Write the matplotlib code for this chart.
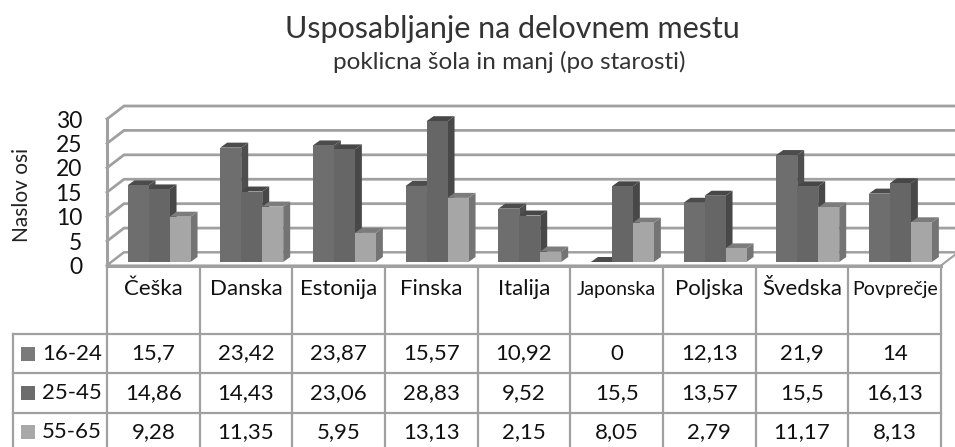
import matplotlib
matplotlib.use("Agg")
import matplotlib.pyplot as plt
from matplotlib.patches import Polygon
from matplotlib.lines import Line2D

categories = ["Češka", "Danska", "Estonija", "Finska", "Italija", "Japonska", "Poljska", "Švedska", "Povprečje"]
series_names = ["16-24", "25-45", "55-65"]
s1 = [15.7, 23.42, 23.87, 15.57, 10.92, 0, 12.13, 21.9, 14]
s2 = [14.86, 14.43, 23.06, 28.83, 9.52, 15.5, 13.57, 15.5, 16.13]
s3 = [9.28, 11.35, 5.95, 13.13, 2.15, 8.05, 2.79, 11.17, 8.13]
s1_txt = ["15,7", "23,42", "23,87", "15,57", "10,92", "0", "12,13", "21,9", "14"]
s2_txt = ["14,86", "14,43", "23,06", "28,83", "9,52", "15,5", "13,57", "15,5", "16,13"]
s3_txt = ["9,28", "11,35", "5,95", "13,13", "2,15", "8,05", "2,79", "11,17", "8,13"]
yticks = [0, 5, 10, 15, 20, 25, 30]
small_headers = ["Japonska", "Povprečje"]

W, H = 955, 447
GRID = "#a0a0a0"
TXT = "#111111"
FRONT = ["#6e6e6e", "#666666", "#a6a6a6"]
TOP = ["#4c4c4c", "#474747", "#7c7c7c"]
SIDE = ["#4e4e4e", "#484848", "#747474"]
KEY = ["#7a7a7a", "#6c6c6c", "#a8a8a8"]

plt.rcParams["font.family"] = ["Lato", "DejaVu Sans"]
fig = plt.figure(figsize=(W / 100, H / 100), dpi=100)

# overlay in pixel coords for table and titles
pix = fig.add_axes([0, 0, 1, 1])
pix.set_xlim(0, W)
pix.set_ylim(H, 0)
pix.axis("off")

# plot axes sits on the front plane of the 3d box
x0, x1, y_bot, y_top = 107, 941, 265.5, 119
ax = fig.add_axes([x0 / W, 1 - y_bot / H, (x1 - x0) / W, (y_bot - y_top) / H])
ax.set_xlim(0, len(categories))
ax.set_ylim(0, 30)
ax.patch.set_alpha(0)
for sp in ax.spines.values():
    sp.set_visible(False)
ax.set_xticks([])
ax.set_yticks(yticks)
ax.set_yticklabels([str(v) for v in yticks], fontsize=16.5, color=TXT)
ax.tick_params(axis="y", length=0, pad=18)
ax.set_ylabel("Naslov osi", fontsize=15, color="#222222", labelpad=17, y=0.48)

pw = len(categories) / (x1 - x0)   # data units per px in x
ph = 30 / (y_bot - y_top)          # data units per px in y
box_dx, box_dy = 17 * pw, 13 * ph
bar_dx, bar_dy = 7 * pw, 5 * ph
base_dx, base_dy = 5.7 * pw, 3.5 * ph  # bars stand slightly behind the front edge

# back wall gridlines + side wall diagonals
for v in yticks:
    ax.plot([0, box_dx, 9 + box_dx], [v, v + box_dy, v + box_dy], color=GRID, lw=2,
            clip_on=False, solid_joinstyle="miter", zorder=1)
ax.plot([0, 0], [0, 30], color=GRID, lw=2.2, clip_on=False, zorder=1)
# floor
ax.add_patch(Polygon([(0, 0), (box_dx, box_dy), (9 + box_dx, box_dy), (9, 0)], closed=True,
                     fc="white", ec=GRID, lw=1.5, clip_on=False, zorder=1.5))
ax.plot([0, 9], [0, 0], color=GRID, lw=2.2, clip_on=False, zorder=2)

bar_w = 21 * pw
gap = (1 - 3 * bar_w) / 2
series = [s1, s2, s3]
z = 3
for c in range(len(categories)):
    for k, vals in enumerate(series):
        v = vals[c]
        left = c + gap + k * bar_w + base_dx
        right = left + bar_w
        b = base_dy
        t = b + v
        ax.add_patch(Polygon([(right, b), (right + bar_dx, b + bar_dy), (right + bar_dx, t + bar_dy), (right, t)],
                             closed=True, fc=SIDE[k], ec="none", clip_on=False, zorder=z))
        ax.add_patch(Polygon([(left, t), (left + bar_dx, t + bar_dy), (right + bar_dx, t + bar_dy), (right, t)],
                             closed=True, fc=TOP[k], ec="none", clip_on=False, zorder=z))
        ax.add_patch(Polygon([(left, b), (right, b), (right, t), (left, t)],
                             closed=True, fc=FRONT[k], ec="none", clip_on=False, zorder=z + 0.5))
        z += 1

# titles
pix.text(512, 29, "Usposabljanje na delovnem mestu", fontsize=22, ha="center", va="center", color="#333333")
pix.text(509, 62, "poklicna šola in manj (po starosti)", fontsize=17.5, ha="center", va="center", color="#333333")

# table
col_w = (x1 - x0) / len(categories)
row_y = [266, 334, 373, 412.5, 452]
tbl_left = 13
for i in range(len(categories) + 1):
    xx = x0 + i * col_w
    pix.add_line(Line2D([xx, xx], [row_y[0], row_y[-1]], color=GRID, lw=1.6))
for yy in row_y[1:]:
    pix.add_line(Line2D([tbl_left, x1], [yy, yy], color=GRID, lw=1.6))
pix.add_line(Line2D([tbl_left, tbl_left], [row_y[1], row_y[-1]], color=GRID, lw=1.6))

for i, name in enumerate(categories):
    cx = x0 + (i + 0.5) * col_w
    fs = 14 if name in small_headers else 16
    pix.text(cx, 289, name, fontsize=fs, ha="center", va="center", color=TXT)

rows = [s1_txt, s2_txt, s3_txt]
for r, txts in enumerate(rows):
    cy = (row_y[r + 1] + row_y[r + 2]) / 2
    pix.add_patch(Polygon([(21, cy - 7), (35, cy - 7), (35, cy + 7), (21, cy + 7)], closed=True, fc=KEY[r], ec="none"))
    pix.text(42, cy, series_names[r], fontsize=16, ha="left", va="center", color=TXT)
    for i, t in enumerate(txts):
        pix.text(x0 + (i + 0.5) * col_w, cy, t, fontsize=16, ha="center", va="center", color=TXT)

fig.savefig("out.png", dpi=100)
